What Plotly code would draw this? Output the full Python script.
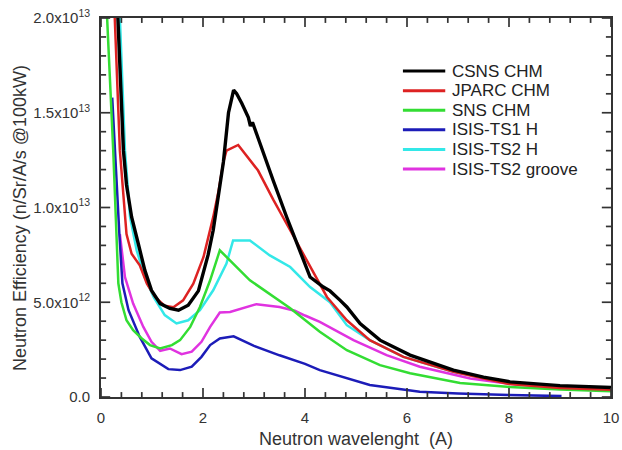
import plotly.graph_objects as go

# values, y in units of 1e12 n/Sr/A/s
csns_x = [0.30, 0.33, 0.38, 0.44, 0.50, 0.60, 0.73, 0.86, 0.99, 1.16, 1.35, 1.52, 1.71, 1.91, 2.10, 2.20, 2.30,
          2.40, 2.50, 2.60, 2.66, 2.76, 2.89, 2.93, 2.97, 3.12, 3.38, 3.64, 3.90, 4.10, 4.36, 4.49, 4.69, 4.82,
          5.08, 5.47, 6.06, 6.91, 7.50, 8.02, 9.00, 10.0]
csns_y = [22.0, 20.0, 16.0, 13.0, 11.2, 9.5, 8.1, 6.68, 5.63, 4.93, 4.67, 4.58, 4.84, 5.6, 7.5, 8.8, 10.6,
          12.4, 15.0, 16.2, 16.0, 15.5, 14.75, 14.3, 14.5, 13.35, 11.4, 9.5, 7.74, 6.33, 5.8, 5.6, 5.1, 4.75,
          3.88, 3.0, 2.21, 1.42, 1.05, 0.8, 0.6, 0.5]

jparc_x = [0.25, 0.27, 0.37, 0.44, 0.50, 0.60, 0.76, 0.90, 1.06, 1.25, 1.42, 1.61, 1.81, 2.01, 2.20, 2.30,
           2.40, 2.46, 2.69, 3.08, 3.38, 3.71, 4.10, 4.43, 4.82, 5.27, 5.93, 6.91, 8.0, 9.0, 10.0]
jparc_y = [22.0, 20.0, 13.0, 10.4, 8.6, 7.56, 6.95, 5.98, 5.28, 4.81, 4.74, 5.1, 5.98, 7.39, 9.49, 10.8,
           12.4, 13.0, 13.3, 11.95, 10.4, 8.8, 6.86, 5.28, 4.05, 3.0, 2.12, 1.33, 0.68, 0.47, 0.38]

sns_x = [0.10, 0.12, 0.24, 0.34, 0.40, 0.50, 0.63, 0.80, 0.96, 1.16, 1.39, 1.55, 1.75, 1.94, 2.14, 2.33,
         2.92, 3.71, 4.29, 4.82, 5.47, 6.06, 7.04, 8.02, 9.0, 10.0]
sns_y = [22.0, 20.0, 13.0, 6.0, 5.0, 4.05, 3.53, 3.09, 2.74, 2.56, 2.74, 3.0, 3.7, 4.75, 6.16, 7.74,
         6.16, 4.68, 3.44, 2.47, 1.68, 1.25, 0.74, 0.53, 0.4, 0.3]

ts1_x = [0.22, 0.27, 0.36, 0.42, 0.54, 0.76, 0.99, 1.32, 1.55, 1.78, 1.97, 2.14, 2.33, 2.60, 3.0, 3.5,
         4.0, 4.29, 5.0, 5.27, 6.25, 7.0, 8.0, 9.03]
ts1_y = [15.8, 13.0, 8.6, 6.0, 4.58, 3.17, 2.04, 1.47, 1.42, 1.6, 2.12, 2.74, 3.09, 3.2, 2.7, 2.2,
         1.75, 1.42, 0.85, 0.63, 0.28, 0.18, 0.1, 0.05]

ts2h_x = [0.33, 0.37, 0.47, 0.57, 0.70, 0.86, 1.03, 1.25, 1.48, 1.71, 1.94, 2.20, 2.46, 2.59, 2.92, 3.31,
          3.71, 4.10, 4.49, 4.82, 5.27, 5.93, 6.91, 8.0, 9.0, 10.0]
ts2h_y = [22.0, 20.0, 13.0, 9.5, 7.74, 6.33, 5.28, 4.32, 3.88, 4.05, 4.58, 5.63, 7.04, 8.26, 8.26, 7.47,
          6.86, 5.8, 5.0, 3.79, 3.0, 2.12, 1.33, 0.75, 0.48, 0.33]

groove_x = [0.37, 0.47, 0.63, 0.83, 0.99, 1.16, 1.35, 1.58, 1.78, 1.97, 2.14, 2.33, 2.53, 3.05, 3.5, 3.8,
            4.0, 4.29, 4.95, 5.6, 6.25, 7.24, 8.0, 9.0, 10.0]
groove_y = [8.6, 6.33, 4.93, 3.7, 2.91, 2.44, 2.56, 2.26, 2.39, 2.91, 3.7, 4.46, 4.49, 4.9, 4.75, 4.55,
            4.3, 3.96, 3.0, 2.21, 1.6, 0.98, 0.7, 0.47, 0.36]

series = [
    ("CSNS CHM", csns_x, csns_y, "#000000", 3.4),
    ("JPARC CHM", jparc_x, jparc_y, "#dd2222", 2.5),
    ("SNS CHM", sns_x, sns_y, "#33dd33", 2.5),
    ("ISIS-TS1 H", ts1_x, ts1_y, "#1c1cb8", 2.5),
    ("ISIS-TS2 H", ts2h_x, ts2h_y, "#33e8e8", 2.5),
    ("ISIS-TS2 groove", groove_x, groove_y, "#e033e0", 2.5),
]

x_major = [0, 2, 4, 6, 8, 10]
x_minor = [round(i * 0.4, 1) for i in range(26) if i % 5]
y_ticks = [0, 5e12, 1e13, 1.5e13, 2e13]
y_tick_text = ["0.0", "5.0x10<sup>12</sup>", "1.0x10<sup>13</sup>", "1.5x10<sup>13</sup>", "2.0x10<sup>13</sup>"]
y_minor = [i * 1e12 for i in range(21) if i % 5]

fig = go.Figure()

# back series first so the CSNS curve ends up on top
for name, xs, ys, color, w in reversed(series):
    fig.add_trace(go.Scatter(
        x=xs, y=[v * 1e12 for v in ys],
        mode="lines", name=name, showlegend=False,
        line=dict(color=color, width=w),
    ))

# inward tick marks on all four sides, drawn as shapes (length given as a fraction of the plot box)
tick_style = dict(color="#333", width=1.7)
for vals, length in [(x_major, 0.024), (x_minor, 0.013)]:
    for v in vals:
        fig.add_shape(type="line", xref="x", yref="paper", x0=v, x1=v, y0=0, y1=length, line=tick_style)
        fig.add_shape(type="line", xref="x", yref="paper", x0=v, x1=v, y0=1, y1=1 - length, line=tick_style)
for vals, length in [(y_ticks, 0.018), (y_minor, 0.010)]:
    for v in vals:
        fig.add_shape(type="line", xref="paper", yref="y", x0=0, x1=length, y0=v, y1=v, line=tick_style)
        fig.add_shape(type="line", xref="paper", yref="y", x0=1, x1=1 - length, y0=v, y1=v, line=tick_style)

axis_common = dict(
    showline=True, linecolor="#333", linewidth=1.8, mirror=True,
    ticks="", showgrid=False, zeroline=False, automargin=False,
    ticklabelstandoff=6, ticklabeloverflow="allow",
    tickfont=dict(family="Liberation Sans, Arial", size=15, color="#333"),
)

fig.update_layout(
    width=622, height=450,
    margin=dict(l=101, r=11, t=18, b=53),
    plot_bgcolor="white", paper_bgcolor="white",
    font=dict(family="Liberation Sans, Arial", color="#333"),
    xaxis=dict(range=[0, 10], tickmode="array", tickvals=x_major, **axis_common),
    yaxis=dict(range=[0, 2e13], tickmode="array", tickvals=y_ticks, ticktext=y_tick_text, **axis_common),
)

# hand-made legend, the plotly one spaces its rows too far apart
legend_top = 0.860
legend_step = 0.0517
for i, (name, xs, ys, color, w) in enumerate(series):
    ly = legend_top - i * legend_step
    fig.add_shape(type="line", xref="paper", yref="paper", x0=0.592, x1=0.675, y0=ly, y1=ly,
                  line=dict(color=color, width=3))
    fig.add_annotation(text=name, xref="paper", yref="paper", x=0.684, y=ly,
                       xanchor="left", yanchor="middle", showarrow=False,
                       font=dict(size=17, color="#222"))

# axis titles
fig.add_annotation(text="Neutron wavelenght\u00a0 (A)", xref="paper", yref="paper", x=0.5, y=-0.112,
                   xanchor="center", yanchor="middle", showarrow=False,
                   font=dict(size=18, color="#333"))
fig.add_annotation(text="Neutron Efficiency (n/Sr/A/s @100kW)", xref="paper", yref="paper", x=-0.159, y=0.472,
                   xanchor="center", yanchor="middle", textangle=-90, showarrow=False,
                   font=dict(size=18, color="#333"))

# drop the default 8px body margin so the 622x450 figure fills the window exactly
fig.write_html("out.html", config={"displayModeBar": False},
               post_script="document.body.style.margin='0';document.body.style.overflow='hidden';")
